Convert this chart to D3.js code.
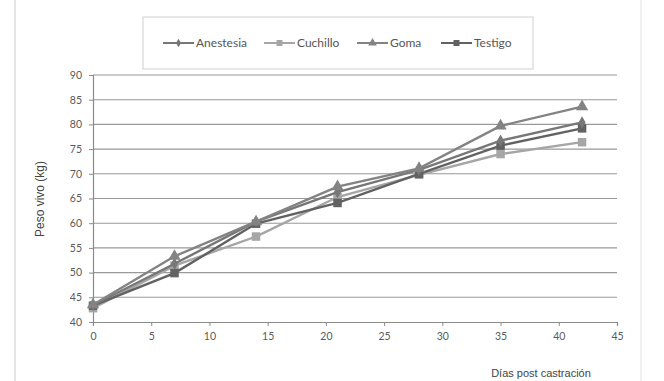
<!DOCTYPE html>
<html><head><meta charset="utf-8">
<script src="https://cdn.jsdelivr.net/npm/d3@7"></script>
<style>html,body{margin:0;padding:0;background:#fff;}svg{display:block;}</style>
</head><body>
<svg id="c" width="664" height="381"></svg>
<script>
const days = [0, 7, 14, 21, 28, 35, 42];
const anestesia = [43.4, 51.8, 60.3, 66.3, 70.8, 76.7, 80.4];
const cuchillo  = [42.8, 51.4, 57.3, 65.3, 69.8, 74.0, 76.4];
const goma      = [43.5, 53.3, 60.3, 67.4, 71.1, 79.7, 83.6];
const testigo   = [43.3, 49.9, 59.9, 64.1, 70.0, 75.7, 79.2];
const seriesNames = ["Anestesia", "Cuchillo", "Goma", "Testigo"];
const xTicks = [0, 5, 10, 15, 20, 25, 30, 35, 40, 45];
const yTicks = [40, 45, 50, 55, 60, 65, 70, 75, 80, 85, 90];

const series = [
  {name: "Anestesia", values: anestesia, color: "#777777", marker: "diamond"},
  {name: "Cuchillo",  values: cuchillo,  color: "#a6a6a6", marker: "square"},
  {name: "Goma",      values: goma,      color: "#838383", marker: "triangle"},
  {name: "Testigo",   values: testigo,   color: "#626262", marker: "square"}
];

const svg = d3.select("#c");
const x = d3.scaleLinear().domain([0, 45]).range([93, 617]);
const y = d3.scaleLinear().domain([40, 90]).range([322, 75]);

// scan frame lines
svg.append("line").attr("x1", 15).attr("x2", 15).attr("y1", 0).attr("y2", 381)
  .attr("stroke", "#dcdcdc").attr("stroke-width", 1.5);
svg.append("line").attr("x1", 641).attr("x2", 641).attr("y1", 0).attr("y2", 381)
  .attr("stroke", "#f0f0f0").attr("stroke-width", 2);

// gridlines
svg.append("g").selectAll("line").data(yTicks.filter(d => d > 40)).join("line")
  .attr("x1", x(0)).attr("x2", x(45))
  .attr("y1", d => y(d)).attr("y2", d => y(d))
  .attr("stroke", "#999").attr("stroke-width", 1.1);

// axes
const yAxis = d3.axisLeft(y).tickValues(yTicks).tickSize(4).tickPadding(7);
const gy = svg.append("g").attr("transform", `translate(${x(0)},0)`).call(yAxis);
const xAxis = d3.axisBottom(x).tickValues(xTicks).tickSize(4).tickPadding(7);
const gx = svg.append("g").attr("transform", `translate(0,${y(40)})`).call(xAxis);
[gx, gy].forEach(g => {
  g.select(".domain").attr("stroke", "#8a8a8a").attr("stroke-width", 1.2);
  g.selectAll(".tick line").attr("stroke", "#8a8a8a");
  g.selectAll("text").attr("fill", "#5a5a5a").attr("font-family", "Lato, 'Open Sans', sans-serif").attr("font-size", 10.5);
});

// axis titles
svg.append("text").attr("transform", `translate(44,199) rotate(-90)`)
  .attr("text-anchor", "middle").attr("font-family", "'Liberation Sans', Arial, sans-serif")
  .attr("font-size", 12).attr("fill", "#444").text("Peso vivo (kg)");
svg.append("text").attr("x", 541).attr("y", 377).attr("text-anchor", "middle")
  .attr("font-family", "'Liberation Sans Narrow', 'Liberation Sans', Arial, sans-serif")
  .attr("font-size", 11).attr("fill", "#444").text("Días post castración");

function drawMarker(g, type, cx, cy, color, s) {
  if (type === "square") {
    g.append("rect").attr("x", cx - s/2).attr("y", cy - s/2).attr("width", s).attr("height", s).attr("fill", color);
  } else if (type === "triangle") {
    g.append("path").attr("d", d3.symbol().type(d3.symbolTriangle).size(s * s * 0.9)()).attr("transform", `translate(${cx},${cy})`).attr("fill", color);
  } else {
    g.append("path").attr("d", d3.symbol().type(d3.symbolDiamond).size(s * s * 0.6)()).attr("transform", `translate(${cx},${cy})`).attr("fill", color);
  }
}

const line = d3.line().x((d, i) => x(days[i])).y(d => y(d));
const order = [1, 3, 0, 2];
order.forEach(k => {
  const s = series[k];
  const g = svg.append("g");
  g.append("path").datum(s.values).attr("d", line).attr("fill", "none")
    .attr("stroke", s.color).attr("stroke-width", 2.4);
  s.values.forEach((v, i) => drawMarker(g, s.marker, x(days[i]), y(v), s.color, 8.5));
});

// legend
const lg = svg.append("g");
lg.append("rect").attr("x", 143).attr("y", 17).attr("width", 390).attr("height", 52)
  .attr("fill", "#fff").attr("stroke", "#cfcfcf").attr("stroke-width", 1);
const legendX = [163, 264, 357, 441];
series.forEach((s, i) => {
  const lx = legendX[i], ly = 43;
  lg.append("line").attr("x1", lx).attr("x2", lx + 31).attr("y1", ly).attr("y2", ly)
    .attr("stroke", s.color).attr("stroke-width", 2);
  drawMarker(lg, s.marker, lx + 15.5, ly, s.color, 6);
  lg.append("text").attr("x", lx + 33).attr("y", ly + 4)
    .attr("font-family", "Lato, 'Open Sans', sans-serif").attr("font-size", 12)
    .attr("fill", "#555").text(seriesNames[i]);
});
</script>
</body></html>
